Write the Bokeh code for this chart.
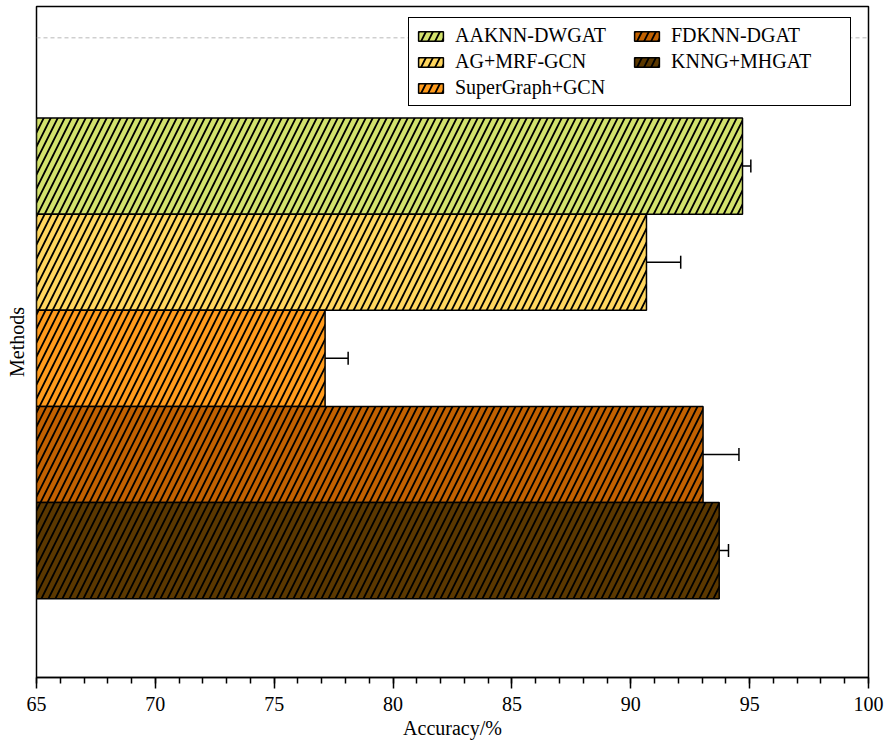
from bokeh.plotting import figure
from bokeh.models import (ColumnDataSource, Whisker, TeeHead, Range1d, SingleIntervalTicker,
                          FixedTicker, Span, Legend, LegendItem)
from bokeh.embed import file_html
from bokeh.resources import INLINE

methods = ["AAKNN-DWGAT", "AG+MRF-GCN", "SuperGraph+GCN", "FDKNN-DGAT", "KNNG+MHGAT"]
accuracy = [94.70, 90.66, 77.14, 93.04, 93.72]
errors = [0.35, 1.44, 0.97, 1.51, 0.39]
colors = ["#d3e26c", "#ffd65e", "#ff9b1c", "#c26100", "#5b3800"]

FONT = "Liberation Serif"
n = len(methods)
ypos = [n - 1 - i for i in range(n)]

p = figure(width=884, height=745, output_backend="svg", toolbar_location=None,
           x_range=Range1d(65, 100), y_range=Range1d(-1.32, 5.66),
           min_border_left=36, min_border_right=16, min_border_top=6, min_border_bottom=68)
p.xgrid.visible = False
p.ygrid.visible = False
p.outline_line_color = "black"
p.outline_line_width = 1.5
p.outline_line_alpha = 1.0

renderers = []
for i in range(n):
    r = p.hbar(y=[ypos[i]], height=1.0, left=65, right=[accuracy[i]],
               fill_color=colors[i], line_color="black", line_width=1.5,
               hatch_pattern="/", hatch_color="black", hatch_scale=14, hatch_weight=1.8)
    renderers.append(r)

src = ColumnDataSource(data=dict(
    y=ypos,
    lower=[a - e for a, e in zip(accuracy, errors)],
    upper=[a + e for a, e in zip(accuracy, errors)],
))
w = Whisker(base="y", lower="lower", upper="upper", dimension="width", source=src,
            line_color="black", line_width=1.5,
            lower_head=TeeHead(size=13, line_color="black", line_width=1.5),
            upper_head=TeeHead(size=13, line_color="black", line_width=1.5))
p.add_layout(w)

p.add_layout(Span(location=5.334, dimension="width", line_color="#b8b8b8",
                  line_width=1, line_dash="4 3"))

# x axis
xa = p.xaxis[0]
xa.ticker = SingleIntervalTicker(interval=5, num_minor_ticks=5)
xa.axis_label = "Accuracy/%"
xa.axis_label_text_font = FONT
xa.axis_label_text_font_size = "20px"
xa.axis_label_text_font_style = "normal"
xa.axis_label_text_color = "black"
xa.axis_label_standoff = 3
xa.major_label_text_font = FONT
xa.major_label_text_font_size = "20px"
xa.major_label_text_color = "black"
xa.major_label_standoff = 8
xa.major_tick_in = 0
xa.major_tick_out = 11
xa.minor_tick_in = 0
xa.minor_tick_out = 6
xa.axis_line_width = 1.5
xa.major_tick_line_width = 1.5
xa.minor_tick_line_width = 1.5
xa.axis_line_color = "black"
xa.major_tick_line_color = "black"
xa.minor_tick_line_color = "black"

# y axis
ya = p.yaxis[0]
ya.ticker = FixedTicker(ticks=[])
ya.axis_label = "Methods"
ya.axis_label_text_font = FONT
ya.axis_label_text_font_size = "20px"
ya.axis_label_text_font_style = "normal"
ya.axis_label_text_color = "black"
ya.axis_label_standoff = 9
ya.major_label_standoff = 0
ya.major_tick_out = 0
ya.major_tick_in = 0
ya.minor_tick_out = 0
ya.minor_tick_in = 0
ya.axis_line_color = None
ya.major_label_text_font_size = "0px"

legend = Legend(items=[LegendItem(label=methods[i], renderers=[renderers[i]]) for i in range(n)],
                location=(372, 571), ncols=2,
                label_text_font=FONT, label_text_font_size="20px", label_text_color="black",
                glyph_width=31, glyph_height=12, label_height=22, label_width=173, spacing=3,
                padding=6, margin=0, label_standoff=9,
                border_line_color="black", border_line_width=1.5, border_line_alpha=1.0,
                background_fill_color="white", background_fill_alpha=1.0)
p.add_layout(legend)

open("out.html", "w").write(file_html(p, INLINE))
